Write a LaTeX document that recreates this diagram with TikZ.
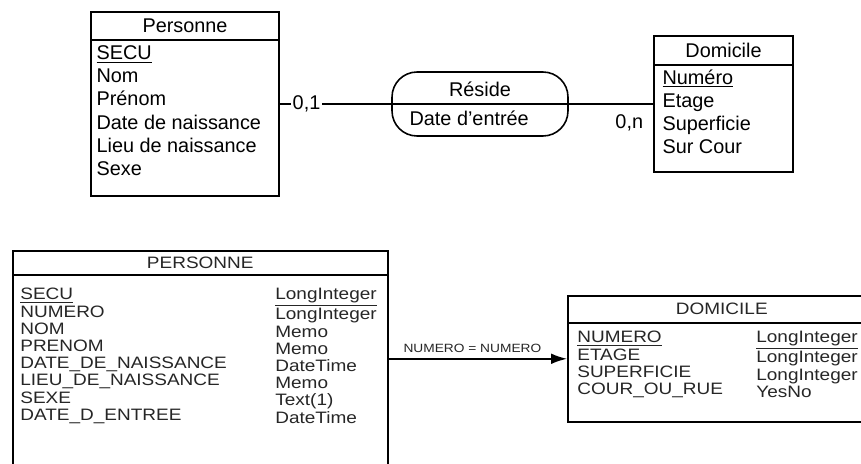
\documentclass[tikz,border=0pt]{standalone}
\usepackage{fontspec}
\setmainfont{Liberation Sans}
\newfontfamily\widesans[FakeStretch=1.15]{Liberation Sans}
\usetikzlibrary{calc,arrows.meta}

\begin{document}
\begin{tikzpicture}[x=0.02cm, y=-0.02cm, font=\fontsize{11.3}{13.2}\selectfont,
    entity/.style={draw, line width=0.9pt, inner sep=0pt},
    attrs/.style={anchor=north west, inner sep=0pt, align=left},
    tabfont/.style={text=black!85, font=\widesans\fontsize{9.4}{9.8}\selectfont},
    tabrows/.style={attrs, tabfont}]
    \useasboundingbox (0,0) rectangle (861,463);
    \clip (0,0) rectangle (861,463);
    % conceptual model
    \node[entity, minimum width=3.76cm, minimum height=3.68cm] (pers) at (185,104) {};
    \draw[line width=0.9pt] ($(pers.north west)+(0,29)$) -- ($(pers.north east)+(0,29)$);
    \node (persname) at ($(pers.north)+(0,15)$) {Personne};
    \node[attrs] (persattr) at ($(pers.north west)+(6,34)$)
        {\underline{SECU}\\Nom\\Prénom\\Date de naissance\\Lieu de naissance\\Sexe};
    \node[entity, rounded corners=0.5cm, minimum width=3.52cm, minimum height=1.28cm] (reside) at (480,104) {};
    \draw[line width=0.9pt] (reside.west) -- (reside.east);
    \node (residename) at ($(reside.center)+(0,-15)$) {Réside};
    \node[anchor=west, inner sep=0pt] (residedate) at ($(reside.west)+(18,14)$) {Date d'entrée};
    \node[entity, minimum width=2.78cm, minimum height=2.72cm] (dom) at (723.5,104) {};
    \draw[line width=0.9pt] ($(dom.north west)+(0,30)$) -- ($(dom.north east)+(0,30)$);
    \node (domname) at ($(dom.north)+(0,15)$) {Domicile};
    \node[attrs] (domattr) at ($(dom.north west)+(9,34)$)
        {\underline{Numéro}\\Etage\\Superficie\\Sur Cour};
    \draw[line width=0.9pt] (pers.east) -- node[pos=0.24, fill=white, inner sep=1pt] (card1) {0,1} (reside.west);
    \draw[line width=0.9pt] (reside.east) -- (dom.west)
        node[pos=1, anchor=north east, xshift=-2pt, yshift=-2pt] (cardn) {0,n};
    % physical model
    \node[entity, anchor=north west, minimum width=7.5cm, minimum height=4.6cm] (persT) at (12,250) {};
    \draw[line width=0.9pt] ($(persT.north west)+(0,25)$) -- ($(persT.north east)+(0,25)$);
    \node[tabfont] (persTname) at ($(persT.north)+(0,13)$) {PERSONNE};
    \node[tabrows] (persTcols) at ($(persT.north west)+(8,38)$)
        {\underline{SECU}\\NUMERO\\NOM\\PRENOM\\DATE\_DE\_NAISSANCE\\LIEU\_DE\_NAISSANCE\\SEXE\\DATE\_D\_ENTREE};
    \node[tabrows] (persTtypes) at ($(persT.north west)+(263,38)$)
        {\underline{LongInteger}\\LongInteger\\Memo\\Memo\\DateTime\\Memo\\Text(1)\\DateTime};
    \node[entity, anchor=north west, minimum width=6.16cm, minimum height=2.52cm] (domT) at (567,295) {};
    \draw[line width=0.9pt] ($(domT.north west)+(0,28)$) -- ($(domT.north east)+(0,28)$);
    \node[tabfont] (domTname) at ($(domT.north)+(0,14)$) {DOMICILE};
    \node[tabrows] (domTcols) at ($(domT.north west)+(10,36)$)
        {\underline{NUMERO}\\ETAGE\\SUPERFICIE\\COUR\_OU\_RUE};
    \node[tabrows] (domTtypes) at ($(domT.north west)+(189,36)$)
        {\underline{LongInteger}\\LongInteger\\LongInteger\\YesNo};
    \draw[line width=0.9pt, -{Latex[length=9pt,width=6pt]}] (domT.west -| persT.east) --
        node[pos=0.47, above, tabfont, font=\widesans\fontsize{6.8}{7}\selectfont] (join) {NUMERO = NUMERO} (domT.west);
\end{tikzpicture}
\end{document}
